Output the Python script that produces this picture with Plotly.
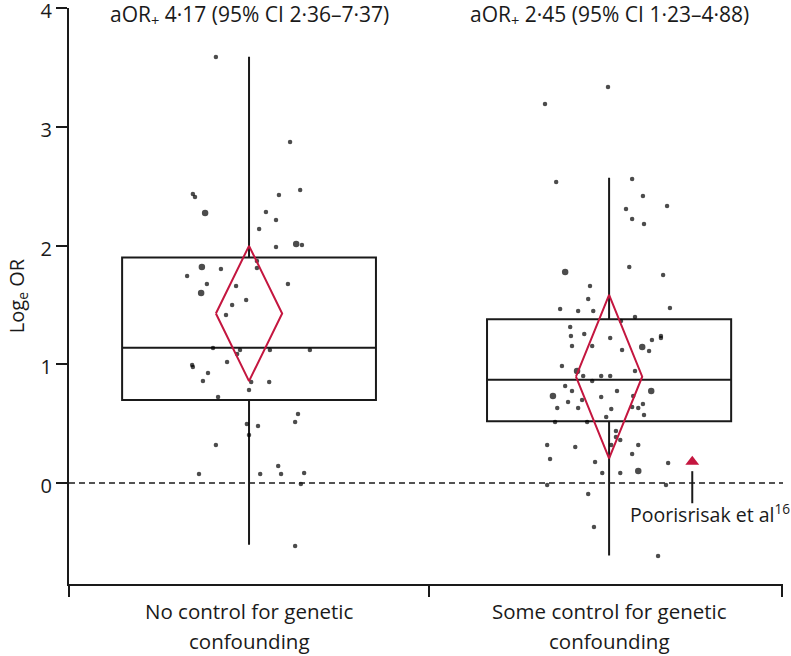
import numpy as np
import plotly.graph_objects as go

# categories (two lines each)
groups = [["No control for genetic", "confounding"],
          ["Some control for genetic", "confounding"]]

# individual studies: horizontal jitter (offset from group centre), log OR, dot weight (1 small, 2 big)
left_jit = [-0.092, 0.114, -0.156, -0.150, -0.122, 0.142, 0.083, 0.047, 0.075, 0.028,
            0.075, 0.131, 0.147, 0.022, 0.022, -0.131, -0.078, -0.172, -0.117, 0.108,
            -0.036, -0.133, -0.008, -0.047, -0.064, -0.100, -0.025, 0.058, 0.169, -0.033,
            -0.061, -0.158, -0.156, -0.114, -0.128, 0.006, 0.056, 0.000, -0.086, 0.136,
            0.128, -0.006, 0.025, 0.000, -0.092, -0.139, 0.031, 0.081, 0.089, 0.153,
            0.144, 0.128]
left_log = [3.587, 2.872, 2.434, 2.408, 2.274, 2.467, 2.425, 2.282, 2.215, 2.139,
            1.987, 2.013, 2.004, 1.869, 1.811, 1.819, 1.802, 1.743, 1.676, 1.676,
            1.659, 1.600, 1.541, 1.499, 1.415, 1.137, 1.120, 1.120, 1.120, 1.086,
            1.019, 0.994, 0.977, 0.926, 0.859, 0.851, 0.851, 0.783, 0.724, 0.581,
            0.514, 0.497, 0.480, 0.404, 0.320, 0.076, 0.076, 0.143, 0.076, 0.084,
            -0.008, -0.531]
left_wt = [1, 1, 1, 1, 2, 1, 1, 1, 1, 1,
           1, 2, 1, 1, 1, 2, 1, 1, 1, 1,
           1, 2, 1, 1, 1, 1, 1, 1, 1, 1,
           1, 1, 1, 1, 1, 1, 1, 1, 1, 1,
           1, 1, 1, 1, 1, 1, 1, 1, 1, 1,
           1, 1]

right_jit = [-0.003, -0.178, -0.147, 0.064, 0.094, 0.161, 0.047, 0.064, 0.097, -0.122,
             0.056, 0.150, -0.053, -0.058, -0.136, -0.086, -0.044, 0.169, 0.072, 0.033,
             -0.108, -0.106, -0.069, 0.003, 0.144, 0.144, 0.119, -0.103, -0.047, 0.036,
             0.092, 0.111, -0.131, -0.089, 0.072, -0.072, -0.022, 0.003, -0.047, -0.122,
             -0.103, 0.117, -0.156, -0.022, 0.022, 0.067, -0.114, -0.075, -0.144, -0.086,
             0.006, 0.064, 0.081, 0.094, 0.097, -0.008, -0.150, -0.061, 0.019, 0.019,
             0.031, 0.006, -0.172, -0.094, 0.081, -0.164, 0.064, -0.039, 0.164, -0.019,
             0.031, 0.081, -0.172, 0.158, -0.058, -0.042, 0.136]
right_log = [3.335, 3.192, 2.535, 2.560, 2.417, 2.333, 2.307, 2.223, 2.181, 1.777,
             1.819, 1.752, 1.659, 1.549, 1.465, 1.448, 1.448, 1.474, 1.398, 1.364,
             1.314, 1.238, 1.255, 1.221, 1.238, 1.221, 1.204, 1.154, 1.154, 1.120,
             1.145, 1.112, 0.985, 0.943, 0.943, 0.901, 0.901, 0.901, 0.859, 0.817,
             0.775, 0.775, 0.733, 0.724, 0.775, 0.733, 0.682, 0.699, 0.632, 0.632,
             0.623, 0.640, 0.632, 0.665, 0.573, 0.556, 0.514, 0.514, 0.438, 0.387,
             0.362, 0.320, 0.320, 0.303, 0.320, 0.202, 0.244, 0.177, 0.168, 0.084,
             0.084, 0.101, -0.017, -0.017, -0.093, -0.371, -0.615]
right_wt = [1, 1, 1, 1, 1, 1, 1, 1, 1, 2,
            1, 1, 1, 1, 1, 1, 1, 1, 1, 1,
            1, 1, 1, 1, 1, 1, 1, 1, 1, 1,
            2, 1, 1, 2, 1, 1, 1, 1, 1, 1,
            1, 2, 2, 1, 1, 1, 1, 1, 1, 1,
            1, 1, 1, 1, 1, 1, 1, 1, 1, 1,
            1, 1, 1, 1, 1, 1, 1, 1, 1, 1,
            1, 2, 1, 1, 1, 1, 1]

# box summaries per group
box_low = [-0.52, -0.61]
box_q1 = [0.70, 0.52]
box_med = [1.14, 0.87]
box_q3 = [1.90, 1.38]
box_high = [3.59, 2.57]
box_w = [0.705, 0.678]

# pooled adjusted OR with 95% CI
aor = [4.17, 2.45]
ci_lo = [2.36, 1.23]
ci_hi = [7.37, 4.88]
aor_text = ["aOR<sub>+</sub> 4·17 (95% CI 2·36–7·37)",
            "aOR<sub>+</sub> 2·45 (95% CI 1·23–4·88)"]

# Poorisrisak et al (highlighted study, right group)
poor_jit = 0.231
poor_log = 0.18

FONT = "Open Sans"
INK = "#1a1a1a"
RED = "#c4163f"

fig = go.Figure()

# boxes
for i in range(2):
    fig.add_trace(go.Box(x=[i], q1=[box_q1[i]], median=[box_med[i]], q3=[box_q3[i]],
                         lowerfence=[box_low[i]], upperfence=[box_high[i]],
                         width=box_w[i], whiskerwidth=0, boxpoints=False,
                         line=dict(color=INK, width=2),
                         fillcolor="rgba(0,0,0,0)", hoverinfo="skip"))

# study dots
for i, (jit, vals, wt) in enumerate([(left_jit, left_log, left_wt),
                                     (right_jit, right_log, right_wt)]):
    fig.add_trace(go.Scatter(x=[i + j for j in jit], y=vals, mode="markers",
                             marker=dict(color="black", size=[4.5 if w == 1 else 6.5 for w in wt],
                                         line=dict(width=0)),
                             hoverinfo="y"))

# pooled diamonds
dw = 0.092
for i in range(2):
    c, lo, hi = np.log(aor[i]), np.log(ci_lo[i]), np.log(ci_hi[i])
    fig.add_trace(go.Scatter(x=[i - dw, i, i + dw, i, i - dw], y=[c, hi, c, lo, c],
                             mode="lines", line=dict(color=RED, width=2), hoverinfo="skip"))

# Poorisrisak marker + pointer
fig.add_trace(go.Scatter(x=[1 + poor_jit], y=[poor_log], mode="markers",
                         marker=dict(symbol="triangle-up", size=12, color=RED)))
fig.add_trace(go.Scatter(x=[1 + poor_jit, 1 + poor_jit], y=[poor_log - 0.08, poor_log - 0.35],
                         mode="lines", line=dict(color=INK, width=2), hoverinfo="skip"))
fig.add_annotation(x=1 + poor_jit - 0.178, y=poor_log - 0.435, text="Poorisrisak et al<sup>16</sup>",
                   showarrow=False, xanchor="left", yanchor="middle",
                   font=dict(family=FONT, size=19.5, color=INK))

# zero reference
fig.add_hline(y=0, line=dict(color=INK, width=1.5, dash="6px,4px"))

for i in range(2):
    fig.add_annotation(x=i, y=4, yshift=-7, text=aor_text[i], showarrow=False,
                       xanchor="center", yanchor="middle",
                       font=dict(family=FONT, size=21, color=INK))
    for k, line in enumerate(groups[i]):
        fig.add_annotation(x=i, y=0, yref="paper", yshift=-27 - 30 * k, text=line,
                           showarrow=False, xanchor="center", yanchor="middle",
                           font=dict(family=FONT, size=20.5, color=INK))

fig.update_layout(
    width=791, height=656,
    margin=dict(l=69, r=8, t=8, b=72),
    plot_bgcolor="white", paper_bgcolor="white",
    showlegend=False,
    font=dict(family=FONT, size=20, color=INK),
    xaxis=dict(range=[-0.5, 1.483], tickvals=[0, 1], ticktext=["", ""], ticks="",
               automargin=False,
               showline=True, linecolor=INK, linewidth=2, showgrid=False, zeroline=False,
               minor=dict(tickvals=[-0.5, 0.5, 1.48], ticks="outside", ticklen=11,
                          tickwidth=2, tickcolor=INK, showgrid=False)),
    yaxis=dict(range=[-0.85, 4], tickvals=[0, 1, 2, 3, 4], ticks="outside", ticklen=11,
               tickwidth=2, tickcolor=INK, showline=True, linecolor=INK, linewidth=2,
               showgrid=False, zeroline=False, automargin=False, ticklabeloverflow="allow",
               ticklabelshift=3,
               title=dict(text="Log<sub>e</sub> OR", standoff=11, font=dict(size=20))),
)

# the page adds an 8px body margin by default; drop it so the figure sits at the window origin
fig.write_html("out.html", config={"displayModeBar": False},
               post_script="document.body.style.margin='0';")
